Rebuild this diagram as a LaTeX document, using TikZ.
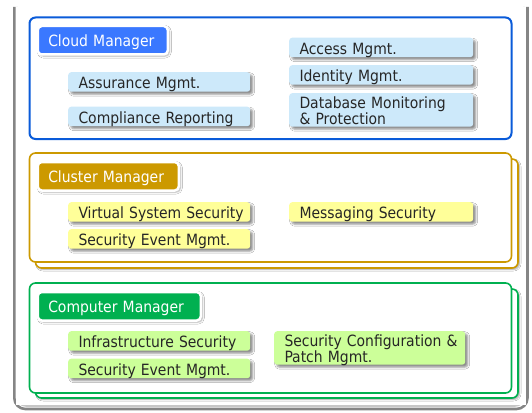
\documentclass[tikz,border=0pt]{standalone}
\usepackage{fontspec}
\setmainfont{DejaVu Sans Condensed}
\usetikzlibrary{shadows.blur}

\definecolor{cloudline}{HTML}{0A5BD9}
\definecolor{cloudtab}{HTML}{3A78FF}
\definecolor{cloudbox}{HTML}{CDE9FA}
\definecolor{clusterline}{HTML}{CC9900}
\definecolor{clusterbox}{HTML}{FFFF99}
\definecolor{compline}{HTML}{00B050}
\definecolor{compbox}{HTML}{CCFF99}
\definecolor{framegray}{HTML}{858585}
\definecolor{ink}{HTML}{262626}

% one unbreakable line of box text, left aligned
\newcommand{\fitline}[1]{\makebox[\linewidth][l]{#1}}

\begin{document}
\begin{tikzpicture}[x=1pt, y=-1pt,
  font=\fontsize{15.5}{15.5}\selectfont,
  panel/.style={draw=#1, line width=1.8pt, rounded corners=6pt, fill=white},
  backpanel/.style={draw=#1, line width=1.6pt, rounded corners=6pt, fill=white,
    blur shadow={shadow xshift=1.5pt, shadow yshift=-1.5pt, shadow blur radius=1.5pt, shadow opacity=35}},
  tab/.style={anchor=north west, fill=#1, draw=white, line width=2.5pt,
    rounded corners=4pt, text=white, inner xsep=10.5pt, inner ysep=0pt,
    minimum height=28.5pt, text height=12pt, text depth=0pt, align=left,
    blur shadow={shadow xshift=1.5pt, shadow yshift=-1.5pt, shadow blur radius=2pt, shadow opacity=35}},
  item/.style={anchor=north west, fill=#1, rounded corners=3pt, inner xsep=10.3pt,
    inner ysep=0pt, minimum height=19.5pt, align=left, text=ink,
    blur shadow={shadow xshift=2.5pt, shadow yshift=-2.5pt, shadow blur radius=2pt, shadow opacity=45}},
  oneline/.style={text height=13.5pt, text depth=0pt},
  twoline/.style={minimum height=33.5pt, text height=13pt, text depth=15.5pt},
]
\useasboundingbox (0,0) rectangle (532,412);

% enclosing gray frame, open at the top
\draw[gray!45, line width=1.6pt, rounded corners=9pt]
  (17,7) -- (17,406) -- (524,406) -- (524,7);
\draw[framegray, line width=2.6pt, rounded corners=11pt]
  (14.3,7) -- (14.3,409) -- (527.5,409) -- (527.5,7);
\fill[white] (16,7) rectangle (525.5,404.5);

% ---------- Cloud Manager ----------
\draw[panel=cloudline, line width=2pt] (29.5,17.5) rectangle (511.5,139);
\node[tab=cloudtab, text width=109pt] (cloud) at (36.5,24.75) {\fitline{Cloud Manager}};
\node[item=cloudbox, oneline, text width=161.4pt] (assure) at (68,72) {\fitline{Assurance Mgmt.}};
\node[item=cloudbox, oneline, text width=161.4pt] (comply) at (68,106.5) {\fitline{Compliance Reporting}};
\node[item=cloudbox, oneline, text width=163.4pt] (access) at (289,37.5) {\fitline{Access Mgmt.}};
\node[item=cloudbox, oneline, text width=163.4pt] (ident) at (289,65) {\fitline{Identity Mgmt.}};
\node[item=cloudbox, twoline, text width=163.4pt] (dbmon) at (289,93)
  {\fitline{Database Monitoring}\\\fitline{\& Protection}};

% ---------- Cluster Manager ----------
\draw[backpanel=clusterline] (35.5,159) rectangle (518,268);
\draw[panel=clusterline, line width=1.6pt] (29.5,153) rectangle (511.5,262);
\node[tab=clusterline, text width=120pt] (cluster) at (36.5,160.75) {\fitline{Cluster Manager}};
\node[item=clusterbox, oneline, text width=161.4pt] (virt) at (68,202) {\fitline{Virtual System Security}};
\node[item=clusterbox, oneline, text width=161.4pt] (clsev) at (68,229) {\fitline{Security Event Mgmt.}};
\node[item=clusterbox, oneline, text width=163.4pt] (msg) at (289,202) {\fitline{Messaging Security}};

% ---------- Computer Manager ----------
\draw[backpanel=compline] (35.5,289) rectangle (518,398);
\draw[panel=compline, line width=1.6pt] (29.5,283) rectangle (511.5,393);
\node[tab=compline, text width=142pt] (computer) at (36.5,290.75) {\fitline{Computer Manager}};
\node[item=compbox, oneline, text width=161.4pt] (infra) at (68,331) {\fitline{Infrastructure Security}};
\node[item=compbox, oneline, text width=161.4pt] (cpsev) at (68,358.5) {\fitline{Security Event Mgmt.}};
\node[item=compbox, twoline, text width=170.4pt] (patch) at (274,331)
  {\fitline{Security Configuration \&}\\\fitline{Patch Mgmt.}};
\end{tikzpicture}
\end{document}
